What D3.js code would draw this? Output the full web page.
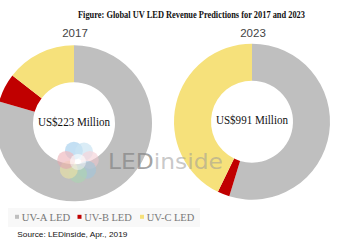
<!DOCTYPE html>
<html><head><meta charset="utf-8">
<script src="https://cdn.jsdelivr.net/npm/d3@7"></script>
<style>html,body{margin:0;padding:0;background:#fff;overflow:hidden}</style>
</head><body>
<svg id="c" width="359" height="250"></svg>
<script>
const categories = ["UV-A LED", "UV-B LED", "UV-C LED"];
const colors = ["#bfbfbf", "#c00000", "#f6e17b"];
const years = ["2017", "2023"];
const values2017 = [79.5, 6, 14.5];
const values2023 = [54.7, 2.5, 42.8];
const totals = ["US$223 Million", "US$991 Million"];
const title = "Figure: Global UV LED Revenue Predictions for 2017 and 2023";
const source = "Source: LEDinside, Apr., 2019";

const svg = d3.select("#c");
const color = d3.scaleOrdinal().domain(categories).range(colors);
const pie = d3.pie().sort(null).value(d => d.v);
const arc = d3.arc().innerRadius(41).outerRadius(78);
const xs = d3.scalePoint().domain(years).range([74, 252]);

svg.append("text").attr("x", 78).attr("y", 17.5)
  .attr("textLength", 227).attr("lengthAdjust", "spacingAndGlyphs")
  .style("font-family", "Liberation Serif, serif").style("font-size", "10.5px").style("font-weight", "bold")
  .attr("fill", "#111").text(title);

const series = [values2017, values2023];
const cys = [123.3, 121.7];
years.forEach((y, i) => {
  const g = svg.append("g").attr("transform", `translate(${xs(y)},${cys[i]})`);
  const data = categories.map((c, j) => ({c, v: series[i][j]}));
  g.selectAll("path").data(pie(data)).join("path")
    .attr("d", arc).attr("fill", d => color(d.data.c));
  g.append("text").attr("x", 0).attr("y", 2.7).attr("text-anchor", "middle")
    .attr("textLength", 72).attr("lengthAdjust", "spacingAndGlyphs")
    .style("font-family", "Liberation Serif, serif").style("font-size", "13px")
    .attr("fill", "#111").text(totals[i]);
  svg.append("text").attr("x", xs(y) + 1).attr("y", 36.5).attr("text-anchor", "middle")
    .style("font-family", "Liberation Sans, Arial, sans-serif").style("font-size", "11.5px")
    .attr("fill", "#444").text(y);
});

// watermark
const wm = svg.append("g").attr("opacity", 0.75);
const petals = [
  {a: -110, c: "#8ec3e8"}, {a: -60, c: "#b9dcef"}, {a: -10, c: "#f2c7cf"},
  {a: 40, c: "#9cc7e0"}, {a: 90, c: "#a8d8b0"}, {a: 140, c: "#f4e9a0"},
  {a: 190, c: "#eba5ad"}
];
petals.forEach(p => {
  const r = p.a * Math.PI / 180;
  wm.append("circle").attr("cx", 78 + 12 * Math.cos(r)).attr("cy", 162 + 12 * Math.sin(r))
    .attr("r", 9).attr("fill", p.c).attr("opacity", 0.7);
});
wm.append("circle").attr("cx", 78).attr("cy", 162).attr("r", 8).attr("fill", "#fff").attr("opacity", 0.6);
const wt = svg.append("text").attr("x", 108).attr("y", 168.5)
  .attr("textLength", 115).attr("lengthAdjust", "spacingAndGlyphs")
  .style("font-family", "DejaVu Sans, sans-serif").style("font-size", "21px");
wt.append("tspan").attr("fill", "#8a8a8a").attr("fill-opacity", 0.8).text("LED");
wt.append("tspan").attr("fill", "#9a9a9a").attr("fill-opacity", 0.55).text("inside");

// legend
svg.append("rect").attr("x", 8).attr("y", 208).attr("width", 192).attr("height", 19).attr("fill", "#f8f8f8");
const lx = [15, 77.5, 140];
const tw = [48.5, 47.5, 47.5];
categories.forEach((c, i) => {
  svg.append("rect").attr("x", lx[i]).attr("y", 214.8).attr("width", 4).attr("height", 4).attr("fill", color(c));
  svg.append("text").attr("x", lx[i] + 6.8).attr("y", 220.5)
    .attr("textLength", tw[i]).attr("lengthAdjust", "spacingAndGlyphs")
    .style("font-family", "Liberation Serif, serif").style("font-size", "10px")
    .attr("fill", "#777").text(c);
});

svg.append("text").attr("x", 17.3).attr("y", 236.7)
  .attr("textLength", 110).attr("lengthAdjust", "spacingAndGlyphs")
  .style("font-family", "Liberation Sans, Arial, sans-serif").style("font-size", "8px")
  .attr("fill", "#111").text(source);
</script>
</body></html>
